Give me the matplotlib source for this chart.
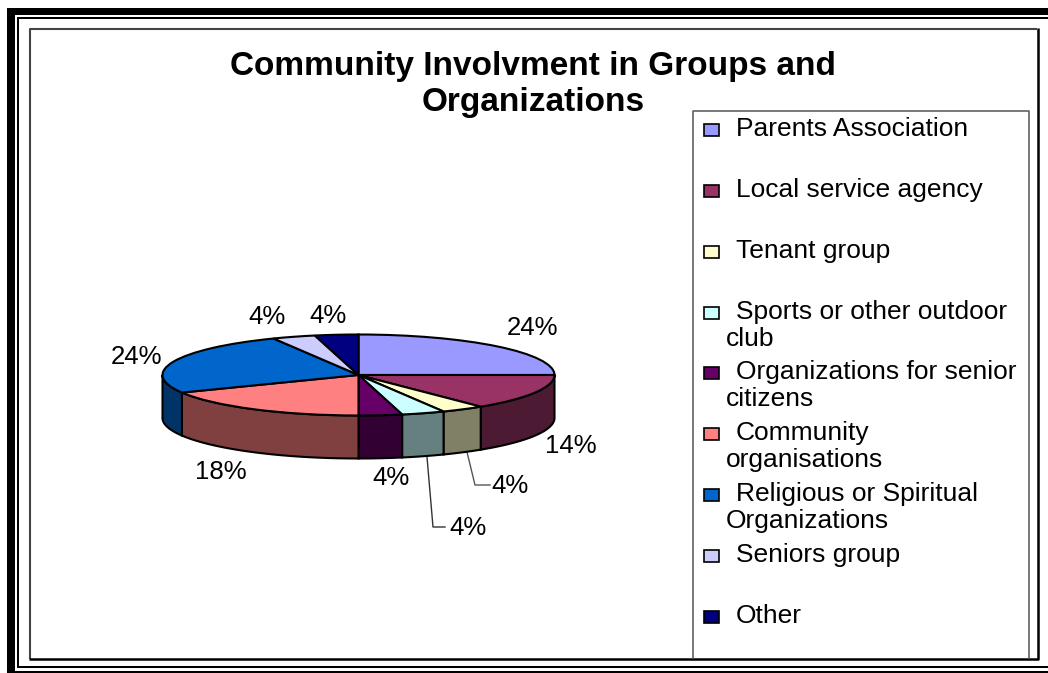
import numpy as np
import matplotlib
matplotlib.use('Agg')
import matplotlib.pyplot as plt
from matplotlib.patches import Rectangle, Polygon

plt.rcParams['font.family'] = ['Liberation Sans', 'DejaVu Sans']

title = 'Community Involvment in Groups and\nOrganizations'
groups = ['Parents Association', 'Local service agency', 'Tenant group',
          'Sports or other outdoor\nclub', 'Organizations for senior\ncitizens',
          'Community\norganisations', 'Religious or Spiritual\nOrganizations',
          'Seniors group', 'Other']
counts = [7, 4, 1, 1, 1, 5, 7, 1, 1]
pct_labels = ['24%', '14%', '4%', '4%', '4%', '18%', '24%', '4%', '4%']
colors = ['#9999FF', '#993366', '#FFFFCC', '#CCFFFF', '#660066',
          '#FF8080', '#0066CC', '#CCCCFF', '#000080']

W, H = 1048, 673
fig = plt.figure(figsize=(W / 100, H / 100), dpi=100)

# whole figure in pixels, for frame + legend
bg = fig.add_axes([0, 0, 1, 1])
bg.set_xlim(0, W)
bg.set_ylim(H, 0)
bg.axis('off')

# page border
bg.add_patch(Rectangle((7, 8), W - 7, 7, color='black', lw=0))
bg.add_patch(Rectangle((7, 8), 8, H - 8, color='black', lw=0))
bg.add_patch(Rectangle((7, 671), W - 7, 2, color='black', lw=0))
bg.add_patch(Rectangle((17, 17), W - 17, 2, color='black', lw=0))
bg.add_patch(Rectangle((17, 17), 2, 651, color='black', lw=0))
bg.add_patch(Rectangle((17, 666), W - 17, 2, color='black', lw=0))

# chart area border, grey top/left and black bottom/right
bg.plot([29.5, 29.5, 1037], [658.5, 28.5, 28.5], color='#444444', lw=1.5, solid_capstyle='butt')
bg.plot([29, 1037.5, 1037.5], [658.5, 658.5, 28], color='black', lw=1.8, solid_capstyle='butt')

bg.text(533, 66, title.split('\n')[0], fontsize=24, fontweight='bold', ha='center', va='center')
bg.text(533, 102, title.split('\n')[1], fontsize=24, fontweight='bold', ha='center', va='center')

# legend
bg.plot([692.5, 692.5, 1029, 1029], [658, 110.5, 110.5, 658], color='#555555', lw=1.1)
item_y = [128, 189, 250, 311, 371, 432, 493, 554, 615]
for name, col, y in zip(groups, colors, item_y):
    bg.add_patch(Rectangle((703.5, y - 4), 15, 12, facecolor=col, edgecolor='black', lw=1.2))
    lines = name.split('\n')
    bg.text(736, y + 1, lines[0], fontsize=19, ha='left', va='center')
    if len(lines) > 1:
        bg.text(726, y + 28, lines[1], fontsize=19, ha='left', va='center')

# pie in its own axes, 1 unit = radius on each axis
cx, cy, rx, ry, depth = 358.5, 375, 196, 40.5, 43
x_lim = (-1.2, 1.2)
y_lim = (-2.6, 1.2)
left = cx + x_lim[0] * rx
right = cx + x_lim[1] * rx
top = cy - y_lim[1] * ry
bottom = cy - y_lim[0] * ry
ax = fig.add_axes([left / W, 1 - bottom / H, (right - left) / W, (bottom - top) / H])
ax.patch.set_alpha(0)

ax.pie(counts, colors=colors, startangle=90, counterclock=False, radius=1,
       wedgeprops={'edgecolor': 'black', 'linewidth': 1.5, 'zorder': 3})
ax.set_aspect('auto')
ax.set_xlim(*x_lim)
ax.set_ylim(*y_lim)
ax.axis('off')

# side walls: front half only, half the brightness of the top
d = depth / ry
edges = 90 - np.cumsum([0] + counts) / sum(counts) * 360
for a0, a1, col in zip(edges[:-1], edges[1:], colors):
    # keep the part of the slice between 0 and -180 deg
    a_hi = min(a0, 0)
    a_lo = max(a1, -180)
    if a_hi <= a_lo:
        continue
    t = np.radians(np.linspace(a_hi, a_lo, 40))
    xs = np.cos(t)
    ys = np.sin(t)
    pts = np.column_stack([np.r_[xs, xs[::-1]], np.r_[ys, ys[::-1] - d]])
    rgb = np.array(matplotlib.colors.to_rgb(col)) * 0.5
    ax.add_patch(Polygon(pts, closed=True, facecolor=rgb, edgecolor='black', lw=1.5, zorder=2))

# percent labels + leader lines
label_xy = [(532, 328), (571, 446), (510, 486), (468, 528), (391, 478),
            (221, 472), (136, 357), (267, 317), (328, 316)]
for txt, (x, y) in zip(pct_labels, label_xy):
    bg.text(x, y, txt, fontsize=18.5, ha='center', va='center', zorder=5)
bg.plot([467, 475, 490], [452, 485, 485], color='#555555', lw=1)
bg.plot([427, 433, 445], [457, 527, 527], color='#333333', lw=1)

fig.savefig('out.png', dpi=100)
